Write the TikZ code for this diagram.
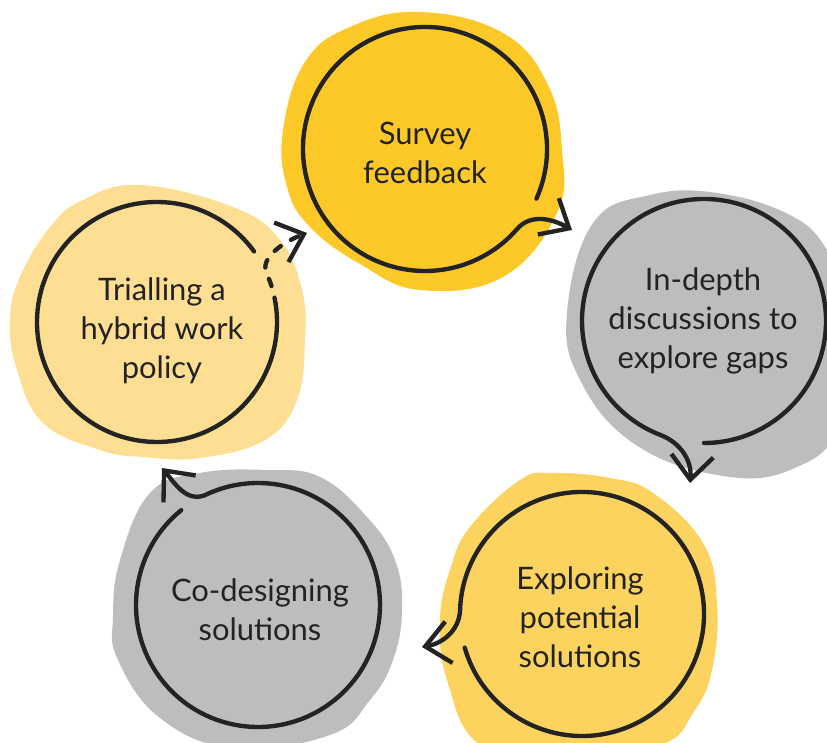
\documentclass[tikz,border=0pt]{standalone}
\usepackage{fontspec}
\setmainfont{Lato}
\usetikzlibrary{arrows.meta, calc}

\definecolor{sunny}{HTML}{FDC928}
\definecolor{honey}{HTML}{FBD35E}
\definecolor{butter}{HTML}{FDDE93}
\definecolor{stone}{HTML}{BCBDBC}
\definecolor{ink}{HTML}{232323}

\begin{document}
\begin{tikzpicture}[x=0.025cm, y=0.025cm,
    >={Straight Barb[length=6mm, width=10.5mm]},
    ring/.style={draw=ink, line width=3.1pt, line cap=round, line join=round},
    flow/.style={ring, ->},
    blob/.style={smooth cycle, tension=0.7},
    words/.style={font=\fontsize{22}{27.7}\selectfont, text=ink, align=center}]
  \useasboundingbox (0,0) rectangle (827,742);
  \clip (0,0) rectangle (827,742);

  \coordinate (c1) at (425,593);
  \coordinate (c2) at (704,421);
  \coordinate (c3) at (582,128);
  \coordinate (c4) at (258,137);
  \coordinate (c5) at (157,420);

  \coordinate (t1) at (572,512);
  \coordinate (t2) at (690,259);
  \coordinate (t3) at (422,95);
  \coordinate (t4) at (162,274);
  \coordinate (t5) at (307,509);

  % coloured blobs behind the rings
  \fill[sunny] plot[blob] coordinates {(283,612) (305,680) (350,715) (420,730) (503,709)
    (548,657) (562,592) (557,529) (503,465) (420,452) (360,478) (310,515) (287,555)};
  \fill[stone] plot[blob] coordinates {(567,429) (580,362) (633,299) (717,267) (790,272)
    (840,320) (845,440) (827,492) (790,527) (717,549) (650,547) (593,519)};
  \fill[honey] plot[blob] coordinates {(470,215) (520,262) (553,269) (610,264) (653,249)
    (703,199) (717,139) (712,72) (693,29) (660,-3) (560,-18) (480,-3) (447,62)
    (440,122) (450,172)};
  \fill[stone] plot[blob] coordinates {(200,269) (267,272) (320,265) (367,225) (395,182)
    (402,132) (393,82) (370,42) (330,7) (233,-6) (160,24) (118,82) (113,125)
    (120,182) (150,249)};
  \fill[butter] plot[blob] coordinates {(140,557) (233,535) (280,502) (302,452)
    (305,402) (297,342) (265,302) (200,284) (143,285) (100,292) (43,319) (17,372)
    (10,422) (20,465) (50,515) (83,542)};

  % rings running out into arrows
  \draw[flow] ($(c1)+(-24:122)$) arc[start angle=-24, end angle=319, radius=122]
    to[out=49, in=150] (t1);
  \draw[flow] ($(c2)+(-90:122)$) arc[start angle=-90, end angle=249, radius=122]
    to[out=-21, in=85] (t2);
  \draw[flow] ($(c3)+(196:122)$) arc[start angle=196, end angle=538, radius=122]
    to[out=-92, in=10] (t3);
  \draw[flow] ($(c4)+(129:122)$) arc[start angle=129, end angle=476, radius=122]
    to[out=200, in=-50] (t4);
  \draw[ring] ($(c5)+(36:120)$) arc[start angle=36, end angle=368, radius=120];
  \draw[flow, dash pattern=on 5.5pt off 8.5pt] ($(c5)+(8:120)$)
    arc[start angle=8, end angle=25, radius=120] to[out=105, in=200, looseness=0.8] (t5);

  \node[words] (survey)  at (425,589) {Survey\\feedback};
  \node[words] (depth)   at (703,421) {In-depth\\discussions to\\explore gaps};
  \node[words] (explore) at (580,125) {Exploring\\potential\\solutions};
  \node[words] (codes)   at (260,132) {Co-designing\\solutions};
  \node[words] (trial)   at (162,411) {Trialling a\\hybrid work\\policy};
\end{tikzpicture}
\end{document}
